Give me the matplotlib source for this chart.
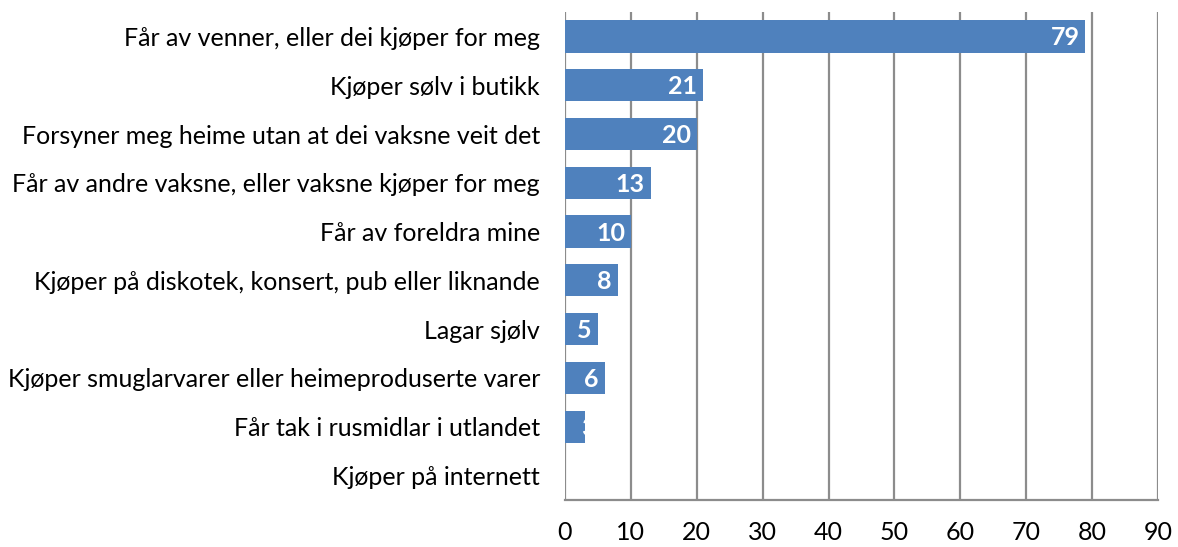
import matplotlib.pyplot as plt

categories = [
    'Får av venner, eller dei kjøper for meg',
    'Kjøper sølv i butikk',
    'Forsyner meg heime utan at dei vaksne veit det',
    'Får av andre vaksne, eller vaksne kjøper for meg',
    'Får av foreldra mine',
    'Kjøper på diskotek, konsert, pub eller liknande',
    'Lagar sjølv',
    'Kjøper smuglarvarer eller heimeproduserte varer',
    'Får tak i rusmidlar i utlandet',
    'Kjøper på internett',
]
values = [79, 21, 20, 13, 10, 8, 5, 6, 3, 0]
x_ticks = list(range(0, 100, 10))

plt.rcParams['font.family'] = ['Lato', 'DejaVu Sans']

fig = plt.figure(figsize=(11.78, 5.47), dpi=100)
ax = fig.add_axes([0.4796, 0.086, 0.5034, 0.892])

pos = list(range(len(categories)))
bars = ax.barh(pos, values, height=0.66, color='#4F81BD', zorder=3)

ax.set_ylim(len(categories) - 0.5, -0.5)
ax.set_xlim(0, 90)
ax.set_xticks(x_ticks)
ax.set_yticks(pos)
ax.set_yticklabels(categories, fontsize=18)
ax.tick_params(axis='x', labelsize=18, length=0, pad=15)
ax.tick_params(axis='y', length=0, pad=18)

ax.grid(axis='x', color='#8c8c8c', linewidth=1.6, zorder=0)
for s in ['top', 'right', 'left']:
    ax.spines[s].set_visible(False)
ax.spines['bottom'].set_color('#8c8c8c')
ax.spines['bottom'].set_linewidth(1.6)

# white labels inside bar end; too-short bars only show part of the label
for bar, p, v in zip(bars, pos, values):
    if v == 0:
        continue
    if v >= 4:
        t = ax.text(v - 0.9, p + 0.03, str(v), ha='right', va='center',
                    color='white', fontsize=18, fontweight='bold', zorder=4)
    else:
        t = ax.text(v - 0.6, p + 0.03, str(v), ha='left', va='center',
                    color='white', fontsize=18, fontweight='bold', zorder=4)
        t.set_clip_path(bar)

fig.savefig('out.png', dpi=100)
